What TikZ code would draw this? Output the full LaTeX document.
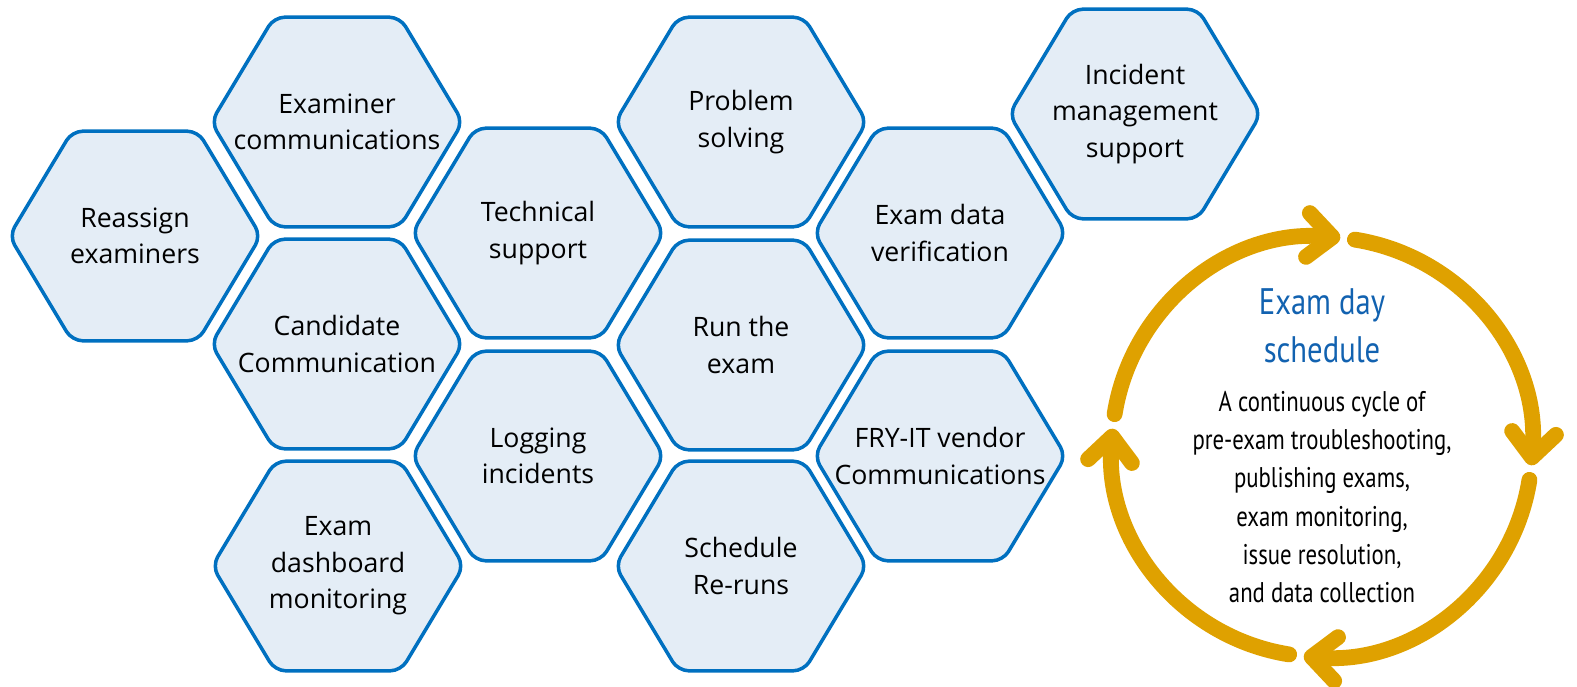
\documentclass[tikz,border=0pt]{standalone}
\usepackage{fontspec}
\newfontfamily\hexfont[FakeStretch=0.96]{Open Sans}
\newfontfamily\condfont[FakeStretch=0.8]{PT Sans}
\newfontfamily\titlefont[FakeStretch=0.83]{PT Sans}
\usetikzlibrary{shapes.geometric,arrows.meta}

\definecolor{hexblue}{RGB}{0,112,192}
\definecolor{hexfill}{RGB}{228,237,246}
\definecolor{cycgold}{RGB}{223,161,0}
\definecolor{titleblue}{RGB}{18,98,176}

\newcommand{\hexsize}{2.42cm}
\newcommand{\cycrad}{2.1}

\begin{document}
\begin{tikzpicture}[font=\hexfont,
    hexbox/.style={regular polygon, regular polygon sides=6, minimum size=\hexsize, xscale=1.04,
        inner xsep=-0.8cm, inner ysep=-0.3cm, draw=hexblue, fill=hexfill, line width=1pt,
        rounded corners=3pt, align=center, font=\hexfont\fontsize{7.6}{10.4}\selectfont},
    cycarrow/.style={draw=cycgold, line width=4.5pt, line cap=round,
        -{Straight Barb[length=7pt,width=12.5pt,round]}}]
    \useasboundingbox (0,0) rectangle (15.77,6.86);

    % Honeycomb, column by column.
    \node[hexbox] (reassign)  at (1.35,4.50)  {Reassign\\examiners};
    \node[hexbox] (examcomm)  at (3.37,5.64)  {Examiner\\communications};
    \node[hexbox] (candcomm)  at (3.37,3.42)  {Candidate\\Communication};
    \node[hexbox] (dashboard) at (3.38,1.20)  {Exam\\dashboard\\monitoring};
    \node[hexbox] (techsupp)  at (5.38,4.53)  {Technical\\support};
    \node[hexbox] (logging)   at (5.38,2.30)  {Logging\\incidents};
    \node[hexbox] (problem)   at (7.41,5.64)  {Problem\\solving};
    \node[hexbox] (runexam)   at (7.41,3.41)  {Run the\\exam};
    \node[hexbox] (reruns)    at (7.41,1.20)  {Schedule\\Re-runs};
    \node[hexbox] (dataverif) at (9.40,4.53)  {Exam data\\verification};
    \node[hexbox] (vendor)    at (9.40,2.30)  {FRY-IT vendor\\Communications};
    \node[hexbox] (incident)  at (11.35,5.72) {Incident\\management\\support};

    % Cycle on the right.
    \coordinate (cyc) at (13.22,2.39);
    \draw[cycarrow] ([shift={(171:\cycrad)}]cyc) arc[start angle=171, end angle=85, radius=\cycrad];
    \draw[cycarrow] ([shift={(81:\cycrad)}]cyc) arc[start angle=81, end angle=-5, radius=\cycrad];
    \draw[cycarrow] ([shift={(-9:\cycrad)}]cyc) arc[start angle=-9, end angle=-95, radius=\cycrad];
    \draw[cycarrow] ([shift={(-99:\cycrad)}]cyc) arc[start angle=-99, end angle=-185, radius=\cycrad];

    \node[font=\titlefont\fontsize{10.5}{13.7}\selectfont, text=titleblue, align=center]
        (cyctitle) at (13.22,3.60) {Exam day\\schedule};
    \node[font=\condfont\fontsize{8.1}{10.9}\selectfont, align=center]
        (cycbody) at (13.22,1.89) {A continuous cycle of\\pre-exam troubleshooting,\\publishing exams,\\exam monitoring,\\issue resolution,\\and data collection};
\end{tikzpicture}
\end{document}
